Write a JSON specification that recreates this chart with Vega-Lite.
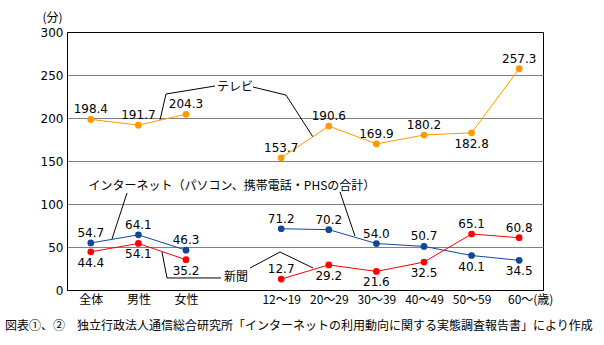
{
  "$schema": "https://vega.github.io/schema/vega-lite/v6.json",
  "width": 476,
  "height": 258,
  "autosize": {"type": "none"},
  "padding": {"left": 67, "top": 32, "right": 61, "bottom": 55},
  "background": "white",
  "config": {
    "view": {"stroke": "black", "strokeWidth": 1},
    "font": "Noto Sans CJK JP"
  },
  "title": {
    "text": "図表①、②　独立行政法人通信総合研究所「インターネットの利用動向に関する実態調査報告書」により作成",
    "orient": "bottom",
    "anchor": "start",
    "frame": "group",
    "offset": 16,
    "dx": -62,
    "font": "Noto Sans CJK JP",
    "fontSize": 12,
    "fontWeight": "normal",
    "color": "black"
  },
  "datasets": {
    "main": [
      {"series": "テレビ", "group": "A", "x": 0, "value": 198.4},
      {"series": "テレビ", "group": "A", "x": 1, "value": 191.7},
      {"series": "テレビ", "group": "A", "x": 2, "value": 204.3},
      {"series": "テレビ", "group": "B", "x": 4, "value": 153.7},
      {"series": "テレビ", "group": "B", "x": 5, "value": 190.6},
      {"series": "テレビ", "group": "B", "x": 6, "value": 169.9},
      {"series": "テレビ", "group": "B", "x": 7, "value": 180.2},
      {"series": "テレビ", "group": "B", "x": 8, "value": 182.8},
      {"series": "テレビ", "group": "B", "x": 9, "value": 257.3},
      {"series": "インターネット", "group": "A", "x": 0, "value": 54.7},
      {"series": "インターネット", "group": "A", "x": 1, "value": 64.1},
      {"series": "インターネット", "group": "A", "x": 2, "value": 46.3},
      {"series": "インターネット", "group": "B", "x": 4, "value": 71.2},
      {"series": "インターネット", "group": "B", "x": 5, "value": 70.2},
      {"series": "インターネット", "group": "B", "x": 6, "value": 54.0},
      {"series": "インターネット", "group": "B", "x": 7, "value": 50.7},
      {"series": "インターネット", "group": "B", "x": 8, "value": 40.1},
      {"series": "インターネット", "group": "B", "x": 9, "value": 34.5},
      {"series": "新聞", "group": "A", "x": 0, "value": 44.4},
      {"series": "新聞", "group": "A", "x": 1, "value": 54.1},
      {"series": "新聞", "group": "A", "x": 2, "value": 35.2},
      {"series": "新聞", "group": "B", "x": 4, "value": 12.7},
      {"series": "新聞", "group": "B", "x": 5, "value": 29.2},
      {"series": "新聞", "group": "B", "x": 6, "value": 21.6},
      {"series": "新聞", "group": "B", "x": 7, "value": 32.5},
      {"series": "新聞", "group": "B", "x": 8, "value": 65.1},
      {"series": "新聞", "group": "B", "x": 9, "value": 60.8}
    ],
    "leaders": [
      {"id": "tv1", "ord": 1, "x": 1.454, "y": 197.7},
      {"id": "tv1", "ord": 2, "x": 1.58, "y": 227.9},
      {"id": "tv1", "ord": 3, "x": 2.609, "y": 237.2},
      {"id": "tv2", "ord": 1, "x": 3.408, "y": 236.0},
      {"id": "tv2", "ord": 2, "x": 4.101, "y": 226.7},
      {"id": "tv2", "ord": 3, "x": 4.668, "y": 177.9},
      {"id": "net1", "ord": 1, "x": 0.445, "y": 59.3},
      {"id": "net1", "ord": 2, "x": 0.761, "y": 112.8},
      {"id": "net2", "ord": 1, "x": 5.235, "y": 114.0},
      {"id": "net2", "ord": 2, "x": 5.55, "y": 62.8},
      {"id": "news1", "ord": 1, "x": 1.496, "y": 44.2},
      {"id": "news1", "ord": 2, "x": 1.601, "y": 14.0},
      {"id": "news1", "ord": 3, "x": 2.735, "y": 14.0},
      {"id": "news2", "ord": 1, "x": 3.345, "y": 25.6},
      {"id": "news2", "ord": 2, "x": 3.975, "y": 44.2},
      {"id": "news2", "ord": 3, "x": 4.668, "y": 25.6}
    ],
    "notes": [
      {"label": "テレビ", "x": 3.029, "y": 236.0},
      {"label": "インターネット（パソコン、携帯電話・PHSの合計）", "x": 2.966, "y": 120.9},
      {"label": "新聞", "x": 3.05, "y": 15.1}
    ]
  },
  "layer": [
    {
      "data": {"name": "leaders"},
      "mark": {"type": "line", "color": "black", "strokeWidth": 1},
      "encoding": {
        "x": {
          "field": "x", "type": "quantitative",
          "scale": {"domain": [-0.5, 9.5], "nice": false, "zero": false},
          "axis": {
            "values": [0, 0.5, 1, 1.5, 2, 2.5, 3, 3.5, 4, 4.5, 5, 5.5, 6, 6.5, 7, 7.5, 8, 8.5, 9],
            "title": null,
            "grid": false,
            "domainColor": "black",
            "tickColor": "black",
            "tickSize": -5,
            "tickOpacity": {"condition": {"test": "datum.value % 1 == 0", "value": 0}, "value": 1},
            "labelExpr": "datum.value % 1 == 0 ? ['全体','男性','女性','','12〜19','20〜29','30〜39','40〜49','50〜59','60〜(歳)'][datum.value] : ''",
            "labelOffset": {"condition": {"test": "datum.value == 9", "value": 11}, "value": 0},
            "labelFont": "Noto Sans CJK JP",
            "labelFontSize": 12,
            "labelColor": "black",
            "labelPadding": 9,
            "labelOverlap": false,
            "labelFlush": false
          }
        },
        "y": {
          "field": "y", "type": "quantitative",
          "scale": {"domain": [0, 300], "nice": false},
          "axis": {
            "values": [0, 50, 100, 150, 200, 250, 300],
            "title": "(分)",
            "titleAngle": 0,
            "titleX": -15,
            "titleY": -15,
            "titleAlign": "center",
            "titleBaseline": "middle",
            "titleFont": "Noto Sans CJK JP",
            "titleFontSize": 12,
            "titleFontWeight": "normal",
            "titleColor": "black",
            "grid": true,
            "gridColor": "#808080",
            "gridOpacity": {"condition": {"test": "datum.value == 0 || datum.value == 300", "value": 0}, "value": 1},
            "ticks": false,
            "domainColor": "black",
            "labelFont": "DejaVu Sans",
            "labelFontSize": 12,
            "labelColor": "black",
            "labelPadding": 4
          }
        },
        "detail": {"field": "id"},
        "order": {"field": "ord"}
      }
    },
    {
      "data": {"name": "notes"},
      "mark": {"type": "text", "font": "Noto Sans CJK JP", "fontSize": 12, "color": "black", "baseline": "middle", "align": "center"},
      "encoding": {
        "x": {"field": "x", "type": "quantitative"},
        "y": {"field": "y", "type": "quantitative"},
        "text": {"field": "label"}
      }
    },
    {
      "data": {"name": "main"},
      "mark": {"type": "line", "strokeWidth": 1},
      "encoding": {
        "x": {"field": "x", "type": "quantitative"},
        "y": {"field": "value", "type": "quantitative"},
        "color": {
          "field": "series", "type": "nominal",
          "scale": {"domain": ["テレビ", "インターネット", "新聞"], "range": ["#FF9900", "#10479E", "#FF0000"]},
          "legend": null
        },
        "detail": {"field": "group"}
      }
    },
    {
      "data": {"name": "main"},
      "mark": {"type": "point", "shape": "circle", "filled": true, "size": 45, "opacity": 1},
      "encoding": {
        "x": {"field": "x", "type": "quantitative"},
        "y": {"field": "value", "type": "quantitative"},
        "color": {"field": "series", "type": "nominal", "legend": null}
      }
    },
    {
      "data": {"name": "main"},
      "transform": [
        {"filter": "!((datum.series=='テレビ' && datum.x==8) || (datum.series=='インターネット' && datum.x>=8) || (datum.series=='新聞' && datum.x!=4 && datum.x<8))"}
      ],
      "mark": {"type": "text", "font": "DejaVu Sans", "fontSize": 12, "color": "black", "baseline": "middle", "align": "center", "dy": -10},
      "encoding": {
        "x": {"field": "x", "type": "quantitative"},
        "y": {"field": "value", "type": "quantitative"},
        "text": {"field": "value", "type": "quantitative", "format": ".1f"}
      }
    },
    {
      "data": {"name": "main"},
      "transform": [
        {"filter": "(datum.series=='テレビ' && datum.x==8) || (datum.series=='インターネット' && datum.x>=8) || (datum.series=='新聞' && datum.x!=4 && datum.x<8)"}
      ],
      "mark": {"type": "text", "font": "DejaVu Sans", "fontSize": 12, "color": "black", "baseline": "middle", "align": "center", "dy": 11},
      "encoding": {
        "x": {"field": "x", "type": "quantitative"},
        "y": {"field": "value", "type": "quantitative"},
        "text": {"field": "value", "type": "quantitative", "format": ".1f"}
      }
    }
  ]
}
